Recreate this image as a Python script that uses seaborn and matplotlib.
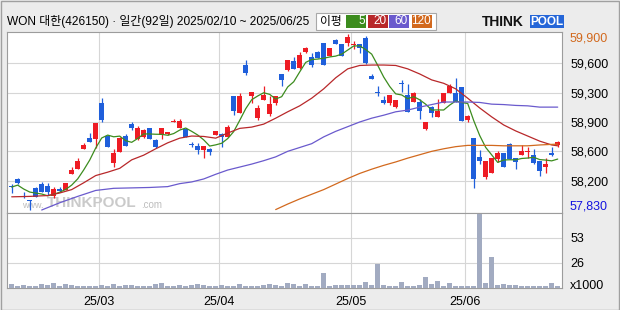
import numpy as np
import pandas as pd
import matplotlib
matplotlib.use("Agg")
import matplotlib.pyplot as plt
from matplotlib.patches import Rectangle
import seaborn as sns

# ---------------- data ----------------
title_text = "WON 대한(426150) · 일간(92일) 2025/02/10 ~ 2025/06/25"
opens = [58110, 58195, 57990, 57945, 58085, 58130, 58115, 58000, 58075, 58065,
         58255, 58315, 58550, 58680, 58660, 59090, 58700, 58380, 58515, 58700,
         58840, 58660, 58690, 58790, 58655, 58710, 58720, 58865, 58800, 58785,
         58605, 58585, 58530, 58550, 58715, 58725, 58685, 59170, 58975, 59540,
         59175, 58910, 59125, 58960, 59090, 59435, 59475, 59585, 59495, 59690,
         59635, 59690, 59800, 59640, 59830, 59780, 59800, 59765, 59780, 59855,
         59405, 59215, 59125, 59085, 59045, 59325, 59185, 59105, 59105, 58785,
         59040, 58920, 59085, 59210, 59210, 59275, 58890, 58675, 58455, 58220,
         58270, 58435, 58495, 58605, 58440, 58480, 58510, 58475, 58410, 58330,
         58495, 58595]
highs = [58130, 58210, 58045, 57950, 58105, 58160, 58145, 58100, 58095, 58150,
         58340, 58445, 58615, 58740, 58855, 59145, 58710, 58545, 58690, 58725,
         58865, 58820, 58780, 58800, 58660, 58800, 58745, 58900, 58895, 58795,
         58625, 58615, 58585, 58565, 58760, 58735, 58825, 59170, 59210, 59595,
         59220, 59060, 59290, 59170, 59170, 59435, 59595, 59635, 59690, 59745,
         59675, 59705, 59800, 59730, 59840, 59780, 59900, 59820, 59780, 59875,
         59425, 59290, 59165, 59185, 59125, 59360, 59310, 59220, 59130, 58865,
         59055, 59130, 59210, 59310, 59380, 59280, 58945, 58675, 58530, 58405,
         58445, 58525, 58505, 58615, 58440, 58590, 58575, 58550, 58410, 58445,
         58570, 58645]
lows = [58025, 58130, 57975, 57830, 57980, 58040, 58010, 57975, 58040, 58060,
        58255, 58315, 58545, 58635, 58555, 58870, 58575, 58330, 58515, 58585,
        58770, 58655, 58675, 58670, 58560, 58660, 58710, 58865, 58800, 58685,
        58575, 58490, 58440, 58475, 58715, 58570, 58685, 58950, 58975, 59420,
        59090, 58890, 59125, 58935, 59065, 59290, 59465, 59490, 59490, 59680,
        59515, 59620, 59530, 59640, 59780, 59645, 59760, 59725, 59675, 59545,
        59370, 59170, 59075, 59065, 59030, 59220, 58985, 59105, 58895, 58770,
        58920, 58920, 59085, 59205, 59105, 58880, 58865, 58090, 58370, 58200,
        58270, 58395, 58330, 58425, 58315, 58475, 58445, 58370, 58235, 58270,
        58470, 58575]
closes = [58100, 58145, 57985, 57935, 57980, 58045, 58040, 58075, 58055, 58145,
          58300, 58405, 58600, 58635, 58855, 58890, 58575, 58500, 58675, 58585,
          58795, 58800, 58770, 58670, 58570, 58790, 58745, 58870, 58875, 58690,
          58595, 58530, 58585, 58510, 58760, 58690, 58805, 58995, 59170, 59445,
          59220, 59025, 59185, 59075, 59170, 59360, 59595, 59490, 59655, 59730,
          59530, 59620, 59540, 59730, 59780, 59645, 59860, 59780, 59740, 59560,
          59375, 59205, 59090, 59185, 59125, 59310, 58985, 59210, 59000, 58865,
          58970, 58990, 59205, 59290, 59105, 58880, 58935, 58200, 58410, 58405,
          58440, 58495, 58340, 58425, 58400, 58520, 58520, 58385, 58290, 58370,
          58475, 58625]
volumes = [4, 2, 3, 2, 2, 4, 3, 5, 2, 4,
           3, 2, 2, 2, 2, 3, 2, 4, 2, 3,
           3, 2, 2, 2, 4, 5, 2, 2, 3, 2,
           3, 4, 3, 2, 2, 3, 2, 2, 4, 2,
           2, 2, 3, 4, 3, 2, 5, 4, 2, 4,
           2, 2, 16, 2, 3, 3, 3, 3, 3, 6,
           3, 25, 3, 2, 2, 6, 2, 2, 3, 11.5,
           4, 7, 2, 5, 2, 2, 2, 2, 78, 5,
           32.5, 3, 4, 3, 3, 2, 2, 2, 2, 2,
           5, 2]

ma20_days = [0, 3, 6, 8, 10, 12, 14, 16, 18, 20, 22, 24, 26, 28, 30, 32, 34, 36,
             38, 40, 42, 44, 46, 48, 50, 52, 54, 56, 58, 60, 62, 64, 66, 68, 70,
             72, 74, 76, 78, 80, 82, 84, 86, 88, 90, 91]
ma20_vals = [57985, 57990, 58000, 58030, 58070, 58150, 58235, 58275, 58320, 58420,
             58475, 58550, 58620, 58675, 58700, 58695, 58675, 58735, 58790, 58805,
             58840, 58910, 58985, 59055, 59145, 59255, 59385, 59490, 59530, 59535,
             59535, 59530, 59490, 59430, 59360, 59320, 59255, 59145, 59030, 58925,
             58830, 58760, 58700, 58640, 58595, 58585]
ma60_days = [5, 8, 11, 14, 17, 20, 23, 26, 28, 30, 32, 34, 36, 38, 40, 42, 44, 46,
             48, 50, 52, 54, 56, 58, 60, 62, 64, 66, 68, 70, 72, 74, 76, 78, 80,
             82, 84, 86, 88, 91]
ma60_vals = [57830, 57915, 57990, 58060, 58085, 58090, 58095, 58105, 58140, 58160,
             58195, 58250, 58300, 58335, 58370, 58410, 58455, 58520, 58565, 58610,
             58690, 58755, 58810, 58865, 58910, 58945, 58985, 59005, 59040, 59070,
             59100, 59100, 59100, 59095, 59075, 59070, 59060, 59055, 59040, 59040]
ma120_days = [44, 46, 48, 50, 52, 54, 56, 58, 60, 62, 64, 66, 68, 70, 72, 74, 76,
              78, 80, 82, 84, 86, 88, 91]
ma120_vals = [57835, 57900, 57960, 58015, 58070, 58135, 58200, 58260, 58310, 58355,
              58395, 58440, 58480, 58520, 58550, 58575, 58590, 58590, 58590, 58585,
              58585, 58585, 58595, 58605]

ma_periods = ["5", "20", "60", "120"]
price_min_value = 57830
price_max_value = 59900
price_tick_labels = ["58,200", "58,600", "58,900", "59,300", "59,600"]
vol_tick_labels = ["26", "53"]
vol_unit_label = "x1000"
month_labels = ["25/03", "25/04", "25/05", "25/06"]
month_start_idx = [15, 35, 57, 76]

# ---------------- style ----------------
sns.set_theme(style="white")
plt.rcParams['font.family'] = ['Liberation Sans', 'Noto Sans CJK KR', 'DejaVu Sans']

RED = '#EE1C24'
BLUE = '#1F5FDB'
MA_COLORS = ['#3C8C1E', '#B8282A', '#6A5ACD', '#D2691E']
GRID = '#d6d6d6'
BORDER = '#9c9c9c'
BG = '#ececec'

W, H = 620, 310
fig = plt.figure(figsize=(W / 100, H / 100), dpi=100, facecolor=BG)

L, R = 7.3, 562.0
PT, PB, VB = 32.0, 212.7, 288.0
ax = fig.add_axes([L / W, 1 - PB / H, (R - L) / W, (PB - PT) / H])
axv = fig.add_axes([L / W, 1 - VB / H, (R - L) / W, (VB - PB) / H])

idx = np.arange(len(closes))
xlim = ((L - 11.7) / 6.0, (R - 11.7) / 6.0)

# ---------------- price panel ----------------
upp = (price_max_value - price_min_value) / 176.0
ax.set_xlim(*xlim)
ax.set_ylim(price_min_value - 2.7 * upp, price_max_value + 2.0 * upp)
ax.set_facecolor('white')

o = np.array(opens, float); c = np.array(closes, float)
hi = np.array(highs, float); lo = np.array(lows, float)
up = c >= o
cols = np.where(up, RED, BLUE)
ax.vlines(idx, lo, hi, colors=cols, linewidth=0.9, zorder=3)
body_bottom = np.minimum(o, c)
body_h = np.maximum(np.abs(c - o), upp * 1.0)
ax.bar(idx, body_h, bottom=body_bottom, width=0.82, color=cols, linewidth=0, zorder=4)

ma5 = pd.Series(closes).rolling(5, min_periods=1).mean()
sns.lineplot(x=idx, y=ma5.values, ax=ax, color=MA_COLORS[0], linewidth=0.9, legend=False, zorder=5)
sns.lineplot(x=ma20_days, y=ma20_vals, ax=ax, color=MA_COLORS[1], linewidth=0.9, legend=False, zorder=5)
sns.lineplot(x=ma60_days, y=ma60_vals, ax=ax, color=MA_COLORS[2], linewidth=0.9, legend=False, zorder=5)
sns.lineplot(x=ma120_days, y=ma120_vals, ax=ax, color=MA_COLORS[3], linewidth=0.9, legend=False, zorder=5)

grid_vals = np.linspace(price_min_value, price_max_value, 7)[1:-1]
ax.yaxis.tick_right()
ax.set_yticks(grid_vals)
ax.set_yticklabels(price_tick_labels)
ax.set_xticks(np.array(month_start_idx) - 0.5)
ax.set_xticklabels([])
ax.tick_params(axis='y', length=0, pad=6, labelsize=9, labelcolor='black')
ax.tick_params(axis='x', length=0)
ax.grid(True, color=GRID, linewidth=0.8, zorder=0)
ax.set_axisbelow(True)
ax.set_xlabel(''); ax.set_ylabel('')
for s in ax.spines.values():
    s.set_color(BORDER); s.set_linewidth(0.8)

axw = (R - L)
ax.text(1 + 8 / axw, (PB - 38.3) / (PB - PT), f"{price_max_value:,}", transform=ax.transAxes,
        ha='left', va='center', fontsize=9, color='#D2691E')
ax.text(1 + 8 / axw, (PB - 206.3) / (PB - PT), f"{price_min_value:,}", transform=ax.transAxes,
        ha='left', va='center', fontsize=9, color='#1414E0')

# watermark
def axfrac(px, py):
    return (px - L) / axw, (PB - py) / (PB - PT)
wx, wy = axfrac(22, 205)
ax.text(wx, wy, "www.", transform=ax.transAxes, fontsize=6.5, color='#bdbdbd', ha='left', va='center', zorder=1)
wx, wy = axfrac(47, 203)
ax.text(wx, wy, "THINKPOOL", transform=ax.transAxes, fontsize=11, fontweight='bold',
        color='#cacaca', ha='left', va='center', zorder=1)
wx, wy = axfrac(141, 205)
ax.text(wx, wy, ".com", transform=ax.transAxes, fontsize=7, color='#bdbdbd', ha='left', va='center', zorder=1)

# ---------------- volume panel ----------------
vol_top = 79.5
sns.barplot(x=idx, y=volumes, native_scale=True, ax=axv, color='#A2ABC1', saturation=1,
            width=0.8, linewidth=0, errorbar=None, zorder=3)
axv.set_xlim(*xlim)
axv.set_ylim(0, vol_top)
axv.set_facecolor('white')
axv.yaxis.tick_right()
axv.set_yticks([vol_top / 3, 2 * vol_top / 3])
axv.set_yticklabels(vol_tick_labels)
axv.set_xticks(np.array(month_start_idx) - 0.5)
axv.set_xticklabels(month_labels)
axv.tick_params(axis='y', length=0, pad=6, labelsize=9, labelcolor='black')
axv.tick_params(axis='x', length=0, pad=6, labelsize=9, labelcolor='black')
axv.grid(True, color=GRID, linewidth=0.8, zorder=0)
axv.set_axisbelow(True)
axv.set_xlabel(''); axv.set_ylabel('')
for s in axv.spines.values():
    s.set_color(BORDER); s.set_linewidth(0.8)
axv.text(1 + 8 / axw, 0.03, vol_unit_label, transform=axv.transAxes, ha='left', va='center',
         fontsize=9, color='black')

# ---------------- header ----------------
fig.text(7 / W, 1 - 21.5 / H, title_text, ha='left', va='center', fontsize=8.6, color='black')

# legend box
fig.add_artist(Rectangle((316 / W, 1 - 30 / H), 120 / W, 17.3 / H, transform=fig.transFigure,
                         facecolor='white', edgecolor='#a8a8a8', linewidth=0.8))
fig.text(331 / W, 1 - 21.5 / H, "이평", ha='center', va='center', fontsize=8.5, color='black')
box_x = [346, 367.7, 389, 411.7]
for bx, col, lab in zip(box_x, MA_COLORS, ma_periods):
    fig.add_artist(Rectangle((bx / W, 1 - 27.7 / H), 20 / W, 12.7 / H, transform=fig.transFigure,
                             facecolor=col, edgecolor='none'))
    fig.text((bx + 19) / W, 1 - 21.5 / H, lab, ha='right', va='center', fontsize=8.5, color='white')

# logo
fig.text(481.5 / W, 1 - 22 / H, "THINK", ha='left', va='center', fontsize=10, fontweight='bold', color='#111111')
fig.add_artist(Rectangle((530 / W, 1 - 28 / H), 33.5 / W, 13 / H, transform=fig.transFigure,
                         facecolor='#2566D8', edgecolor='none'))
fig.text(546.7 / W, 1 - 22 / H, "POOL", ha='center', va='center', fontsize=8.5, fontweight='bold', color='white')

# outer frame
fig.add_artist(Rectangle((0.5 / W, 0.5 / H), (W - 1.5) / W, (H - 1.5) / H, transform=fig.transFigure,
                         facecolor='none', edgecolor='#a0a0a0', linewidth=1.0))

fig.savefig('out.png', dpi=100, facecolor=fig.get_facecolor())
